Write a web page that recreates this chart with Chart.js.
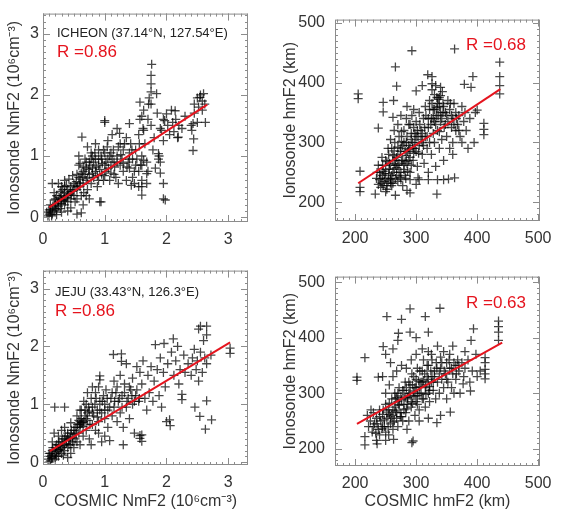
<!DOCTYPE html>
<html>
<head>
<meta charset="utf-8">
<script src="https://cdn.jsdelivr.net/npm/chart.js@4/dist/chart.umd.min.js"></script>
<style>
    body { margin: 0; background: #fff; }
    #wrap { position: relative; width: 562px; height: 515px; }
    #wrap canvas { position: absolute; }
</style>
</head>
<body>
<div id="wrap">
    <canvas id="p1" width="281" height="257" style="left:0;top:0"></canvas>
    <canvas id="p2" width="281" height="257" style="left:281px;top:0"></canvas>
    <canvas id="p3" width="281" height="258" style="left:0;top:257px"></canvas>
    <canvas id="p4" width="281" height="258" style="left:281px;top:257px"></canvas>
</div>
<script>
// tick labels
const NM_TICKS = [0, 1, 2, 3];
const HM_TICKS = [200, 300, 400, 500];

// ICHEON NmF2: [COSMIC, ionosonde] in 10^6 cm^-3
const icheonNm = [
    [0.08,0.02],[0.10,0.05],[0.12,0.08],[0.10,0.12],[0.15,0.05],[0.15,0.15],[0.18,0.10],[0.20,0.20],
    [0.22,0.12],[0.25,0.25],[0.12,0.20],[0.20,0.30],[0.25,0.18],[0.28,0.30],[0.30,0.22],[0.30,0.35],
    [0.33,0.28],[0.35,0.40],[0.35,0.20],[0.38,0.32],[0.40,0.45],[0.40,0.25],[0.42,0.38],[0.45,0.50],
    [0.45,0.30],[0.48,0.42],[0.50,0.55],[0.50,0.35],[0.15,0.55],[0.25,0.55],[0.30,0.50],[0.18,0.40],
    [0.35,0.60],[0.40,0.10],[0.45,0.15],[0.30,0.08],[0.55,0.05],[0.52,0.25],[0.06,0.08],[0.14,0.02],
    [0.22,0.04],[0.28,0.14],[0.32,0.45],[0.38,0.52],[0.42,0.62],[0.48,0.68],[0.62,0.07],
    [0.12,0.12],[0.16,0.18],[0.20,0.14],[0.24,0.22],[0.26,0.32],[0.30,0.28],[0.34,0.34],[0.36,0.26],
    [0.40,0.36],[0.44,0.42],[0.46,0.36],[0.50,0.45],[0.28,0.42],[0.35,0.50],[0.18,0.28],[0.22,0.35],
    [0.55,0.45],[0.55,0.70],[0.60,0.50],[0.60,0.88],[0.60,0.62],[0.62,0.35],[0.65,0.75],[0.65,0.55],
    [0.68,0.95],[0.70,0.60],[0.70,0.80],[0.72,0.45],[0.75,0.70],[0.75,0.90],[0.78,0.55],[0.80,0.80],
    [0.80,1.00],[0.82,0.65],[0.85,0.75],[0.85,0.95],[0.88,0.50],[0.90,0.85],[0.90,1.10],[0.92,0.25],
    [0.95,0.70],[0.95,0.95],[0.98,0.60],[1.00,1.58],[1.00,1.55],[1.00,0.85],[1.00,1.05],[0.63,1.31],
    [0.58,1.00],[0.72,1.15],[0.85,1.20],[0.65,0.20],[0.75,0.30],[0.94,0.25],
    [0.52,0.52],[0.54,0.58],[0.56,0.50],[0.58,0.65],[0.60,0.56],[0.62,0.72],[0.64,0.66],[0.66,0.82],
    [0.68,0.70],[0.70,0.90],[0.72,0.64],[0.74,0.78],[0.76,0.85],[0.78,0.95],[0.80,0.72],[0.82,0.90],
    [0.84,1.05],[0.86,0.82],[0.88,0.68],[0.90,0.95],[0.92,0.78],[0.94,1.00],[0.96,0.88],[0.98,1.10],
    [0.66,0.40],[0.70,0.35],[0.55,0.30],[0.58,0.85],[0.78,1.05],[0.90,0.60],
    [1.02,0.75],[1.05,0.95],[1.05,1.25],[1.08,0.60],[1.10,0.85],[1.10,1.05],[1.12,1.35],[1.15,0.90],
    [1.15,0.70],[1.20,1.00],[1.20,1.45],[1.22,0.55],[1.25,0.85],[1.25,1.20],[1.24,1.37],[1.28,0.95],
    [1.30,1.10],[1.30,0.75],[1.35,1.30],[1.35,0.60],[1.38,0.90],[1.40,1.05],[1.40,0.80],[1.40,1.53],
    [1.42,1.20],[1.43,0.52],[1.45,0.65],[1.45,0.95],[1.48,0.55],[1.50,1.10],[1.50,0.85],
    [1.00,0.68],[1.02,0.90],[1.04,1.15],[1.06,0.80],[1.08,1.00],[1.10,0.72],[1.12,0.95],[1.14,1.10],
    [1.16,0.82],[1.18,0.65],[1.20,0.90],[1.22,1.15],[1.26,1.02],[1.30,0.88],[1.32,1.20],[1.36,0.82],
    [1.40,0.95],[1.44,1.10],[1.48,0.75],[1.52,0.95],[1.56,1.20],[1.58,0.85],
    [1.55,1.35],[1.55,0.75],[1.55,0.50],[1.57,1.88],[1.57,1.60],[1.60,1.65],[1.60,1.00],[1.60,0.60],
    [1.62,1.45],[1.63,1.75],[1.63,1.42],[1.63,0.93],[1.60,0.85],[1.60,0.50],[1.60,0.36],[1.65,1.20],
    [1.68,0.90],[1.68,0.71],[1.68,0.55],[1.70,1.60],[1.70,0.75],[1.71,1.85],[1.72,1.95],[1.76,2.50],
    [1.75,2.32],[1.75,2.18],[1.75,2.05],[1.75,1.85],[1.75,1.50],[1.78,1.10],[1.80,1.30],[1.82,0.80],
    [1.84,2.02],[1.85,1.70],[1.87,1.04],[1.87,0.95],[1.88,1.00],[1.90,1.45],[1.90,0.90],[1.90,0.72],
    [1.92,1.42],[1.95,1.60],[1.95,1.25],[1.95,0.30],[1.98,0.28],[1.95,0.55],[1.97,1.58],[2.00,1.69],
    [2.02,1.50],[2.05,1.35],[2.08,1.75],[2.10,1.55],[2.12,1.40],[2.14,1.74],[2.15,1.60],[2.18,1.30],
    [2.19,1.31],[2.20,1.50],[2.25,1.45],[2.30,1.65],[2.40,1.50],[2.41,1.42],[2.43,1.53],[2.44,1.28],
    [2.43,1.09],[2.45,1.70],[2.45,1.85],[2.50,1.95],[2.52,1.80],[2.54,1.96],[2.55,2.00],[2.58,1.90],
    [2.60,2.02],[2.62,1.85],[2.63,1.55],[2.58,1.75],[2.50,1.55]
];
const icheonNmFit = [[0.10, 0.16], [2.66, 1.84]];

// ICHEON hmF2: [COSMIC, ionosonde] in km
const icheonHm = [
    [235,240],[238,230],[240,250],[242,225],[245,245],[245,262],[248,235],[250,255],[250,270],[252,228],
    [255,248],[255,280],[258,240],[258,262],[260,290],[262,250],[262,232],[265,270],[265,300],[268,245],
    [268,258],[270,235],[270,280],[272,265],[272,310],[275,250],[275,290],[278,270],[278,228],[280,300],
    [280,255],[280,320],[240,238],[248,248],[252,268],[258,232],[262,278],[266,262],[270,292],[274,242],
    [276,302],[284,278],[286,252],[292,262],[296,282],[244,232],[256,256],[264,286],[282,268],[288,288],
    [242,240],[246,252],[250,240],[254,236],[256,265],[260,245],[262,270],[264,255],[266,240],[268,275],
    [270,262],[272,250],[274,285],[276,270],[278,295],[280,262],[282,245],[284,300],[286,285],[288,270],
    [246,228],[252,222],[260,228],[236,250],[238,262],[244,275],[254,290],[258,305],[264,320],[270,330],
    [276,318],[284,340],[290,330],[296,355],
    [282,285],[283,240],[285,310],[285,265],[288,295],[288,330],[290,275],[290,250],[292,305],[293,345],
    [295,290],[295,270],[298,315],[298,300],[300,285],[300,335],[302,260],[303,310],[305,295],[305,350],
    [308,320],[310,280],[310,300],[312,340],[313,265],[315,310],[315,360],[318,290],[320,325],[320,250],
    [290,290],[292,315],[294,300],[296,325],[298,290],[300,310],[302,320],[304,282],[306,330],[308,305],
    [310,315],[312,295],[314,325],[316,345],[318,310],[320,340],
    [322,370],[322,300],[325,340],[325,280],[328,355],[328,315],[330,380],[330,300],[332,260],[333,345],
    [335,365],[335,320],[338,290],[338,375],[340,350],[340,335],[342,305],[343,385],[345,360],[345,270],
    [348,330],[350,345],[350,310],[352,370],[355,355],[355,290],[358,325],[360,340],[360,300],[360,280],
    [326,388],[332,395],[336,372],[340,392],[344,350],[330,335],[334,358],[338,318],
    [322,355],[324,330],[326,365],[328,340],[330,355],[332,330],[334,375],[336,345],[338,360],[340,378],
    [342,340],[344,365],[346,325],[348,350],[352,335],[356,365],[358,345],[362,330],[366,340],[370,320],
    [362,365],[365,350],[365,320],[368,330],[370,345],[372,310],[375,360],[375,300],[378,335],[380,350],
    [382,320],[385,290],[388,340],[390,392],[393,410],[395,300],[397,350],[400,354],[411,332],[411,322],
    [411,313],[437,434],[437,410],[437,395],[437,381],[379,397],[363,456],
    [205,381],[205,373],[293,453],[266,426],[268,394],[246,367],[246,351],[263,370],[238,324],[319,413],
    [326,410],[326,398],[300,386],[310,395],[285,360],[275,345],[262,342],
    [208,252],[208,225],[208,218],[233,214],[266,212],[290,216],[303,241],[334,214],[353,239],[363,241],
    [258,238],[275,238],[290,238],[305,238],[320,238],[335,238],[345,238],[300,230],[285,220],[250,218]
];
const icheonHmFit = [[205, 232], [438, 389]];

// JEJU NmF2
const jejuNm = [
    [0.08,0.05],[0.10,0.10],[0.12,0.02],[0.12,0.15],[0.15,0.08],[0.15,0.20],[0.18,0.12],[0.20,0.25],
    [0.20,0.05],[0.22,0.18],[0.25,0.30],[0.25,0.10],[0.28,0.22],[0.30,0.35],[0.30,0.15],[0.32,0.28],
    [0.35,0.40],[0.35,0.20],[0.38,0.32],[0.40,0.45],[0.40,0.25],[0.42,0.38],[0.45,0.50],[0.45,0.30],
    [0.48,0.42],[0.50,0.55],[0.15,0.35],[0.25,0.45],[0.18,0.50],[0.30,0.55],[0.40,0.08],[0.45,0.15],
    [0.50,0.25],[0.19,0.95],[0.35,0.95],[0.10,0.00],[0.14,0.06],[0.22,0.10],[0.26,0.20],[0.33,0.12],
    [0.10,0.15],[0.14,0.12],[0.16,0.25],[0.20,0.15],[0.22,0.30],[0.24,0.22],[0.26,0.35],[0.28,0.28],
    [0.30,0.25],[0.32,0.40],[0.34,0.30],[0.36,0.45],[0.38,0.38],[0.40,0.50],[0.42,0.30],[0.44,0.42],
    [0.46,0.55],[0.48,0.35],[0.50,0.48],[0.55,0.35],[0.35,0.60],[0.45,0.68],
    [0.52,0.40],[0.55,0.60],[0.55,0.80],[0.58,0.50],[0.60,0.70],[0.60,0.30],[0.62,0.90],[0.65,0.62],
    [0.65,0.45],[0.68,0.80],[0.70,1.00],[0.70,0.55],[0.72,0.72],[0.75,0.88],[0.75,0.40],[0.78,1.10],
    [0.78,0.30],[0.80,0.65],[0.80,0.95],[0.82,0.80],[0.85,1.20],[0.85,0.55],[0.88,0.90],[0.92,1.49],
    [0.92,1.42],[0.90,1.30],[0.90,0.70],[0.92,1.05],[0.95,0.85],[0.95,0.35],[0.98,1.15],[1.00,0.75],
    [1.00,1.00],[0.60,0.65],[0.62,0.68],
    [0.52,0.60],[0.54,0.50],[0.56,0.65],[0.58,0.72],[0.60,0.60],[0.62,0.75],[0.64,0.68],[0.66,0.70],
    [0.68,0.90],[0.70,0.75],[0.72,0.85],[0.74,0.95],[0.76,0.65],[0.80,0.85],[0.84,1.00],[0.88,0.78],
    [0.92,0.90],[0.96,1.05],[1.00,0.90],[0.60,0.90],[0.66,1.05],[0.72,1.20],[0.80,1.30],[0.86,1.10],
    [0.90,0.50],[1.00,0.45],
    [1.02,1.25],[1.05,0.60],[1.05,0.90],[1.08,0.37],[1.10,1.10],[1.12,0.80],[1.14,1.86],[1.15,1.40],
    [1.15,0.95],[1.18,1.20],[1.20,0.70],[1.22,1.05],[1.25,1.50],[1.25,0.85],[1.27,1.87],[1.27,1.74],
    [1.28,1.15],[1.30,0.30],[1.30,0.60],[1.32,1.35],[1.35,0.95],[1.35,1.70],[1.38,1.10],[1.40,0.75],
    [1.42,1.25],[1.45,1.45],[1.45,1.00],[1.48,0.50],[1.50,1.15],
    [1.04,1.10],[1.08,0.95],[1.12,1.20],[1.16,1.05],[1.20,1.30],[1.24,1.10],[1.28,0.95],[1.32,1.20],
    [1.36,1.05],[1.40,1.30],[1.44,1.15],[1.48,1.05],[1.52,1.25],[1.56,1.10],
    [1.52,1.65],[1.55,1.05],[1.57,1.55],[1.57,0.46],[1.57,0.41],[1.60,0.47],[1.60,0.36],[1.60,1.35],
    [1.62,1.75],[1.65,1.10],[1.68,0.90],[1.70,1.50],[1.72,1.20],[1.75,1.65],[1.78,1.05],[1.80,1.40],
    [1.82,2.03],[1.85,1.60],[1.88,1.15],[1.90,1.80],[1.92,0.95],[1.95,1.55],[1.96,2.05],[1.98,1.30],
    [2.00,0.70],[2.02,1.70],[2.06,0.63],[2.05,0.73],[2.08,1.90],[2.11,2.13],[2.12,1.50],[2.15,1.75],
    [2.18,2.00],[2.20,1.35],[2.22,1.60],[2.25,1.17],[2.25,1.08],[2.28,1.85],[2.30,1.55],[2.35,1.70],
    [2.40,1.50],[2.42,1.80],[2.45,1.95],[2.46,0.95],[2.48,1.60],[2.50,1.75],[2.52,1.40],[2.52,2.30],
    [2.54,0.79],[2.55,2.35],[2.55,1.90],[2.58,1.55],[2.60,2.10],[2.63,0.57],[2.62,1.80],[2.65,2.35],
    [2.65,2.20],[2.65,1.70],[2.65,1.06],[2.73,0.73],[2.72,1.85],[3.03,1.88],[3.03,1.97]
];
const jejuNmFit = [[0.11, 0.19], [3.03, 2.07]];

// JEJU hmF2
const jejuHm = [
    [220,260],[222,240],[225,250],[228,230],[230,265],[232,245],[235,255],[238,235],[240,270],[240,225],
    [242,250],[245,262],[248,240],[250,280],[250,230],[252,255],[255,270],[258,245],[260,290],[260,260],
    [262,235],[265,275],[265,300],[268,255],[270,285],[270,240],[272,310],[275,265],[275,295],[278,250],
    [280,280],[280,305],[266,268],[272,278],[276,258],[284,272],[286,292],[262,248],[256,262],[268,292],
    [236,245],[240,258],[244,236],[248,252],[252,266],[254,240],[256,282],[258,258],[262,270],[264,250],
    [266,290],[268,265],[270,300],[272,280],[274,258],[276,288],[278,305],[280,270],[246,270],[250,300],
    [256,315],[262,330],[268,340],[276,350],[230,240],[234,228],[226,270],[250,215],
    [282,320],[283,265],[285,290],[288,300],[288,250],[290,315],[292,275],[293,335],[295,295],[298,310],
    [298,260],[300,325],[300,285],[302,345],[305,300],[305,270],[308,320],[310,340],[310,290],[312,360],
    [315,310],[315,275],[318,330],[320,300],[320,350],[322,285],[325,320],[325,370],[328,305],[330,340],
    [294,282],[296,304],[302,296],[306,312],[312,322],[316,298],[322,312],[326,330],
    [282,292],[284,310],[286,280],[288,320],[290,300],[292,285],[294,315],[296,330],[298,295],[300,310],
    [302,280],[304,322],[306,340],[308,300],[310,320],[312,290],[314,335],[316,315],[318,350],[320,325],
    [322,305],[324,340],[326,360],[328,320],[284,345],[292,360],[300,370],[310,380],[320,375],
    [332,290],[333,355],[335,320],[335,385],[338,300],[340,345],[340,365],[342,325],[345,310],[345,375],
    [348,335],[350,355],[350,290],[352,320],[355,345],[355,370],[358,310],[360,335],[360,385],[362,300],
    [365,350],[365,325],[368,360],[370,340],[372,300],[375,355],[377,317],[378,330],[380,375],[380,345],
    [330,330],[334,345],[338,335],[342,355],[346,340],[350,325],[354,360],[358,345],[362,355],[366,335],
    [370,350],
    [385,360],[388,320],[389,304],[390,395],[392,340],[394,416],[398,370],[400,330],[405,340],[413,364],
    [413,355],[413,343],[413,335],[413,326],[435,430],[435,420],[435,410],[435,395],
    [203,329],[203,323],[216,364],[252,438],[290,452],[339,453],[276,433],[315,438],[238,329],[246,384],
    [271,408],[250,370],[262,380],[258,355],[245,330],[270,395],[290,410],[300,400],[320,410],
    [216,207],[216,222],[236,209],[263,217],[293,211],[295,214],[334,247],[356,266],[245,240],[235,215],
    [255,225],[285,235],[305,250],[320,255],[340,260]
];
const jejuHmFit = [[203, 245], [441, 391]];

const RED = '#e5141e';
const INK = '#333';
const FONT = '"Liberation Sans", Arial, sans-serif';

// frame + inward major/minor ticks on all four sides, IDL style
const frameTicks = {
    id: 'frameTicks',
    afterDraw(chart, args, opts) {
        const { ctx, chartArea: a, scales } = chart;
        ctx.save();
        ctx.strokeStyle = '#8c8c8c';
        ctx.lineWidth = 1;
        ctx.strokeRect(a.left + 0.5, a.top + 0.5, a.right - a.left - 1, a.bottom - a.top - 1);
        const mark = (scale, step, len) => {
            const start = Math.ceil(scale.min / step - 1e-6) * step;
            for (let v = start; v <= scale.max + 1e-9; v += step) {
                const p = Math.round(scale.getPixelForValue(v)) + 0.5;
                ctx.beginPath();
                if (scale.isHorizontal()) {
                    ctx.moveTo(p, a.bottom); ctx.lineTo(p, a.bottom - len);
                    ctx.moveTo(p, a.top); ctx.lineTo(p, a.top + len);
                } else {
                    ctx.moveTo(a.left, p); ctx.lineTo(a.left + len, p);
                    ctx.moveTo(a.right, p); ctx.lineTo(a.right - len, p);
                }
                ctx.stroke();
            }
        };
        mark(scales.x, opts.minor, 3);
        mark(scales.y, opts.minor, 3);
        mark(scales.x, opts.major, 7);
        mark(scales.y, opts.major, 7);
        ctx.restore();
    }
};

// station name and correlation coefficient
const notes = {
    id: 'notes',
    afterDraw(chart, args, opts) {
        const { ctx, chartArea: a } = chart;
        ctx.save();
        ctx.textBaseline = 'middle';
        ctx.textAlign = 'left';
        if (opts.station) {
            ctx.fillStyle = '#222';
            ctx.font = '13px ' + FONT;
            ctx.fillText(opts.station, a.left + opts.sx, a.top + opts.sy);
        }
        ctx.fillStyle = RED;
        ctx.font = '17px ' + FONT;
        ctx.fillText(opts.r, a.left + opts.rx, a.top + opts.ry);
        ctx.restore();
    }
};

function makePanel(id, p) {
    const canvas = document.getElementById(id);
    const w = canvas.width, h = canvas.height;
    const tickFont = { family: FONT, size: 16 };
    const titleFont = { family: FONT, size: 16 };
    return new Chart(canvas, {
        data: {
            datasets: [
                {
                    type: 'line',
                    order: 0,
                    data: p.fit.map(d => ({ x: d[0], y: d[1] })),
                    borderColor: RED,
                    borderWidth: 2,
                    pointRadius: 0,
                    fill: false
                },
                {
                    type: 'scatter',
                    order: 1,
                    data: p.points.map(d => ({ x: d[0], y: d[1] })),
                    pointStyle: 'cross',
                    pointRadius: 4.5,
                    pointHoverRadius: 4.5,
                    borderWidth: 1.3,
                    borderColor: 'rgba(0,0,0,0.72)'
                }
            ]
        },
        options: {
            responsive: false,
            animation: false,
            events: [],
            layout: { padding: { left: 0, top: p.area.top, right: w - p.area.right, bottom: 0 } },
            plugins: {
                legend: { display: false },
                tooltip: { enabled: false },
                frameTicks: { major: p.major, minor: p.minor },
                notes: p.notes
            },
            scales: {
                x: {
                    type: 'linear',
                    min: p.xRange[0],
                    max: p.xRange[1],
                    afterFit: s => { s.height = h - p.area.bottom; },
                    afterBuildTicks: s => { s.ticks = p.ticks.map(v => ({ value: v })); },
                    grid: { display: false, drawTicks: false },
                    border: { display: false },
                    ticks: { font: tickFont, color: INK, padding: 8, maxRotation: 0, autoSkip: false },
                    title: {
                        display: !!p.xTitle,
                        text: p.xTitle || '',
                        font: titleFont,
                        color: INK,
                        padding: { top: 0, bottom: 4 }
                    }
                },
                y: {
                    type: 'linear',
                    min: p.yRange[0],
                    max: p.yRange[1],
                    afterFit: s => { s.width = p.area.left; },
                    afterBuildTicks: s => { s.ticks = p.ticks.map(v => ({ value: v })); },
                    grid: { display: false, drawTicks: false },
                    border: { display: false },
                    ticks: { font: tickFont, color: INK, padding: p.yPad, autoSkip: false },
                    title: {
                        display: true,
                        text: p.yTitle,
                        font: titleFont,
                        color: INK,
                        padding: { top: p.yTitlePad, bottom: 0 }
                    }
                }
            }
        },
        plugins: [frameTicks, notes]
    });
}

makePanel('p1', {
    points: icheonNm, fit: icheonNmFit, ticks: NM_TICKS,
    xRange: [0, 3.32], yRange: [-0.08, 3.33], major: 1, minor: 0.1,
    area: { left: 43, right: 248, top: 13, bottom: 222 },
    yPad: 4, yTitlePad: 5,
    yTitle: 'Ionosonde NmF2 (10⁶cm⁻³)',
    notes: { station: 'ICHEON (37.14°N, 127.54°E)', sx: 14, sy: 20, r: 'R =0.86', rx: 14, ry: 39 }
});

makePanel('p2', {
    points: icheonHm, fit: icheonHmFit, ticks: HM_TICKS,
    xRange: [167, 503], yRange: [169, 505], major: 100, minor: 10,
    area: { left: 54, right: 259, top: 13, bottom: 221 },
    yPad: 10, yTitlePad: 0,
    yTitle: 'Ionosonde hmF2 (km)',
    notes: { r: 'R =0.68', rx: 131, ry: 26 }
});

makePanel('p3', {
    points: jejuNm, fit: jejuNmFit, ticks: NM_TICKS,
    xRange: [0, 3.32], yRange: [-0.05, 3.31], major: 1, minor: 0.1,
    area: { left: 43, right: 248, top: 1, bottom: 208 },
    yPad: 4, yTitlePad: 5,
    yTitle: 'Ionosonde NmF2 (10⁶cm⁻³)',
    xTitle: 'COSMIC NmF2 (10⁶cm⁻³)',
    notes: { station: 'JEJU (33.43°N, 126.3°E)', sx: 12, sy: 22, r: 'R =0.86', rx: 12, ry: 41 }
});

makePanel('p4', {
    points: jejuHm, fit: jejuHmFit, ticks: HM_TICKS,
    xRange: [167, 503], yRange: [169, 510], major: 100, minor: 10,
    area: { left: 54, right: 259, top: 1, bottom: 209 },
    yPad: 10, yTitlePad: 0,
    yTitle: 'Ionosonde hmF2 (km)',
    xTitle: 'COSMIC hmF2 (km)',
    notes: { r: 'R =0.63', rx: 131, ry: 27 }
});
</script>
</body>
</html>
